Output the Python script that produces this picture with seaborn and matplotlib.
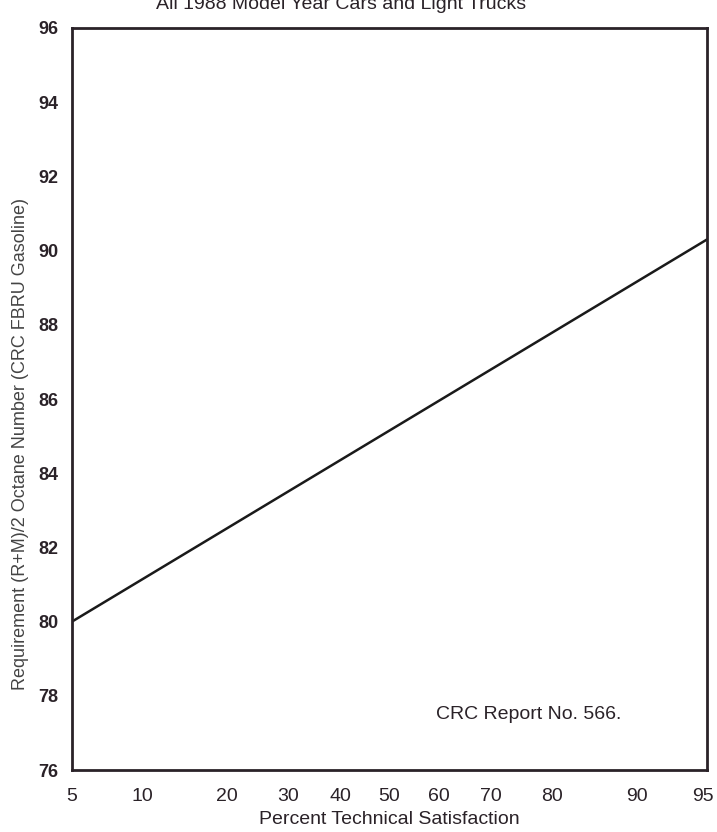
import numpy as np
import matplotlib
matplotlib.use("Agg")
import matplotlib.pyplot as plt
import matplotlib.transforms as mtransforms
import seaborn as sns
import pandas as pd
from statistics import NormalDist

# ------------------------------------------------------------
# data
# ------------------------------------------------------------
pct_satisfaction = [5, 95]
octane_number = [80.0, 90.3]

x_ticks = [5, 10, 20, 30, 40, 50, 60, 70, 80, 90, 95]
y_ticks = [76, 78, 80, 82, 84, 86, 88, 90, 92, 94, 96]

title = "All 1988 Model Year Cars and Light Trucks"
x_label = "Percent Technical Satisfaction"
y_label = "Requirement (R+M)/2 Octane Number (CRC FBRU Gasoline)"
note = "CRC Report No. 566."

df = pd.DataFrame({"pct": pct_satisfaction, "octane": octane_number})

# ------------------------------------------------------------
# normal probability scale for x
# ------------------------------------------------------------
_nd = NormalDist()
_ppf = np.vectorize(lambda p: _nd.inv_cdf(min(max(p, 1e-6), 100 - 1e-6) / 100.0), otypes=[float])
_cdf = np.vectorize(lambda z: _nd.cdf(z) * 100.0, otypes=[float])


def forward(p):
    return _ppf(np.asarray(p, dtype=float))


def inverse(z):
    return _cdf(np.asarray(z, dtype=float))


sns.set_style("white")
plt.rcParams["font.family"] = ["Liberation Sans", "DejaVu Sans"]

ink = "#2a2228"
fig = plt.figure(figsize=(7.17, 8.32), dpi=100)
ax = fig.add_axes([72 / 717, 62 / 832, 635 / 717, 742 / 832])

sns.lineplot(data=df, x="pct", y="octane", ax=ax, color="#1a1a1a", linewidth=1.8)

ax.set_xscale("function", functions=(forward, inverse))
ax.set_xlim(5, 95)
ax.set_ylim(76, 96)
ax.set_xticks(x_ticks)
ax.set_xticklabels([str(t) for t in x_ticks])
ax.set_yticks(y_ticks)
ax.set_yticklabels([str(t) for t in y_ticks])
ax.minorticks_off()

ax.tick_params(axis="both", direction="in", length=8, width=1.6, color=ink,
               labelcolor=ink)
ax.tick_params(axis="x", pad=13, labelsize=14)
ax.tick_params(axis="y", pad=10, labelsize=13)
for lab in ax.get_yticklabels():
    lab.set_fontweight("bold")
# nudge the last x label so it stays on the page
xl = ax.get_xticklabels()
xl[-1].set_transform(xl[-1].get_transform() + mtransforms.ScaledTranslation(-4 / 100, 0, fig.dpi_scale_trans))

for s in ax.spines.values():
    s.set_visible(True)
    s.set_linewidth(2.0)
    s.set_color(ink)

ax.set_xlabel(x_label, fontsize=14, color=ink, labelpad=4)
ax.set_ylabel(y_label, fontsize=13, color="#444444")
ax.yaxis.set_label_coords(-0.068, 0.44)

ax.text(0.865, 0.075, note, transform=ax.transAxes, ha="right", va="center",
        fontsize=14, color=ink)

fig.text(0.475, 1 - 9 / 832, title, ha="center", va="baseline",
         fontsize=14, color=ink)

fig.savefig("out.png", dpi=100, facecolor="white")
